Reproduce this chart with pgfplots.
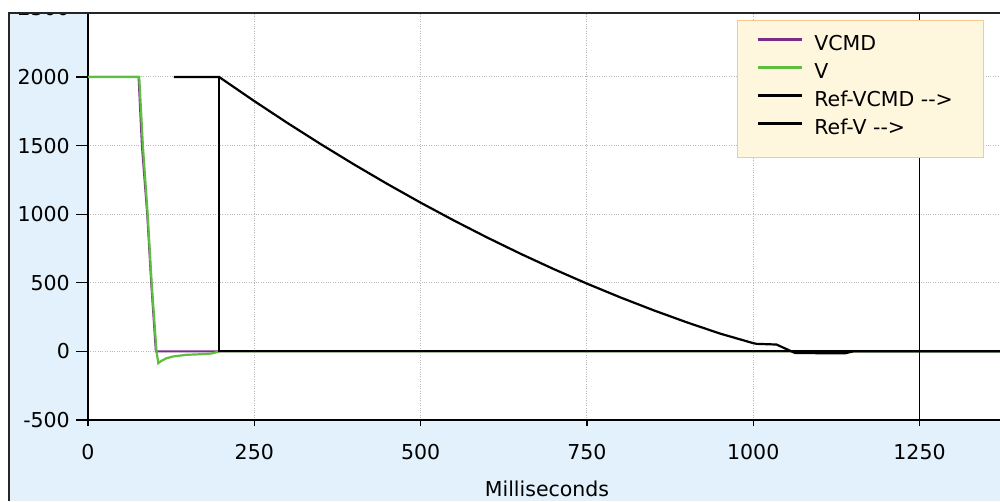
\documentclass[border=0pt]{standalone}
\usepackage{pgfplots}
\pgfplotsset{compat=1.18}
\usepackage{fontspec}
\setmainfont{DejaVu Sans}
\definecolor{bgblue}{RGB}{226,241,251}
\definecolor{legfill}{RGB}{255,246,222}
\definecolor{legdraw}{RGB}{250,200,140}
\definecolor{vcmd}{RGB}{122,45,135}
\definecolor{vgreen}{RGB}{95,190,65}
\definecolor{gridc}{RGB}{185,185,185}
\newcommand\cf{\fontsize{20.5}{24}\selectfont}
\begin{document}
\begin{tikzpicture}[x=1pt,y=1pt]
\useasboundingbox (0,0) rectangle (1000,501);
\clip (0,0) rectangle (1000,501);
\fill[bgblue] (9,0) rectangle (1000,488);
\begin{axis}[
  at={(88pt,81pt)}, anchor=south west,
  scale only axis, width=918pt, height=407pt,
  xmin=0, xmax=1380, ymin=-500, ymax=2466,
  axis background/.style={fill=white},
  axis line style={black, line width=1.4pt},
  xtick={0,250,500,750,1000,1250},
  ytick={-500,0,500,1000,1500,2000},
  xtick pos=bottom, ytick pos=left,
  tick align=outside, major tick length=12pt,
  xtick style={/pgfplots/major tick length=6pt},
  tick style={black, line width=1.2pt},
  grid=major,
  major grid style={gridc, dotted, line width=0.9pt},
  /pgf/number format/assume math mode=true,
  /pgf/number format/1000 sep={},
  tick label style={font=\cf},
  yticklabel style={anchor=east, inner sep=0pt, xshift=-6pt},
  xticklabel style={anchor=north, inner sep=0pt, yshift=-12pt},
  xlabel={Milliseconds},
  xlabel style={at={(axis description cs:0.5,0)}, anchor=north, inner sep=0pt, yshift=-61pt, font=\cf},
  legend style={at={(0.70697,0.98280)}, anchor=north west, draw=legdraw, line width=1.3pt,
    fill=legfill, font=\cf, inner xsep=19pt, inner ysep=12.8pt, row sep=1pt, column sep=10.7pt,
    nodes={inner sep=0pt, text height=17pt, text depth=10pt}},
  legend cell align=left,
  legend image code/.code={\draw[#1, line width=3pt] (0pt,7.5pt) -- (44pt,7.5pt);},
]
\addplot[vcmd, line width=2pt] coordinates {
(0,2000) (76,2000) (81,1500) (89,1000) (95,500) (102,0) (1380,0)};
\addlegendentry{\makebox[150pt][l]{VCMD}}
\addplot[vgreen, line width=2.2pt] coordinates {
(0,2000) (77,2000) (82.5,1500) (89.7,1000) (95.7,500) (103,0) (105.7,-86) (110,-70) (118,-50) (128,-37) (148,-25) (168,-21) (185,-16) (198,0) (1380,0)};
\addlegendentry{\makebox[150pt][l]{V}}
\addplot[black, line width=2.2pt] coordinates {
(129,2000) (197,2000) (197,0) (1380,0)};
\addlegendentry{\makebox[150pt][l]{Ref-VCMD -{}->}}
\addplot[black, line width=2.2pt] coordinates {
(129,2000) (197,2000) (250,1824) (300,1664) (350,1510) (400,1362) (450,1220) (500,1084) (550,954) (600,830) (650,712) (700,600) (750,494) (800,394) (850,300) (900,212) (950,130) (1000,60) (1005,55) (1035,50) (1063,-12) (1138,-14) (1150,0) (1380,0)};
\addlegendentry{\makebox[150pt][l]{Ref-V -{}->}}
\addplot[black, line width=1.6pt, forget plot] coordinates {(1250,-500) (1250,2466)};
\end{axis}
\node[anchor=east, inner sep=0pt, font=\cf] at (70,492.6) {2500};
\fill[white] (0,488) rectangle (1000,501);
\fill[white] (0,0) rectangle (9,501);
\draw[line width=1.6pt, black!85] (9,0) -- (9,488) -- (1000,488);
\end{tikzpicture}
\end{document}
